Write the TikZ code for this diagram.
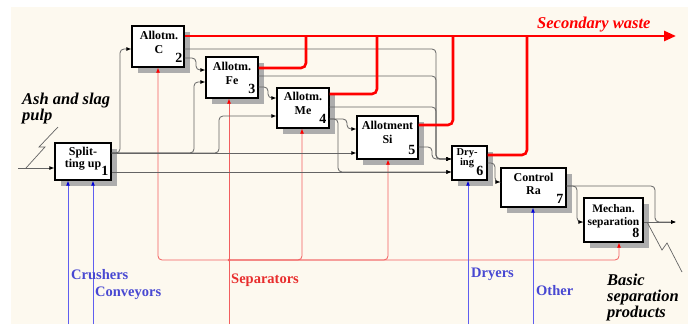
\documentclass[tikz,border=0pt]{standalone}
\usepackage{fontspec}
\setmainfont{Liberation Serif}
\usetikzlibrary{arrows.meta,shadows}
\definecolor{cream}{RGB}{253,249,239}
\definecolor{wred}{RGB}{255,0,0}
\definecolor{mred}{RGB}{242,95,95}
\definecolor{tred}{RGB}{232,45,45}
\definecolor{mblue}{RGB}{95,95,240}
\definecolor{tblue}{RGB}{72,72,210}
\definecolor{lgray}{RGB}{100,100,100}
\newcommand\fsz[2]{\fontsize{#1}{#2}\selectfont}
\begin{document}
\begin{tikzpicture}[x=1pt,y=-1pt,
  box/.style={draw=black,line width=1.3pt,fill=white,inner sep=0pt,
    drop shadow={shadow xshift=6pt,shadow yshift=-6pt,fill=black!32,opacity=1}},
  btxt/.style={anchor=north,inner sep=0pt,align=center,font=\bfseries\fsz{12}{14}},
  num/.style={anchor=base east,inner sep=0pt,font=\bfseries\fsz{14}{14}},
  flow/.style={draw=lgray,line width=0.8pt,rounded corners=4pt,
    -{Latex[length=5pt,width=4pt,color=black]}},
  waste/.style={draw=wred,line width=2.6pt,rounded corners=5pt},
  mech/.style={draw=mred,line width=0.8pt,rounded corners=4pt,
    -{Latex[length=5pt,width=4pt,color=wred]}},
  ctrl/.style={draw=mblue,line width=0.9pt,
    -{Latex[length=5pt,width=4pt,color=blue!85!black]}},
  zig/.style={draw=lgray,line width=0.7pt},
  blab/.style={anchor=base west,inner sep=0pt,text=tblue,font=\bfseries\fsz{14.5}{15}},
  ilab/.style={anchor=north west,inner sep=0pt,align=left,font=\bfseries\itshape\fsz{16.5}{16}}
]
\useasboundingbox (0,0) rectangle (695,324);
\fill[white] (0,0) rectangle (695,324);
\fill[cream] (11,7) rectangle (688,324);

% boxes
\node[box,minimum width=56pt,minimum height=37pt] (b1) at (83,161.5) {};
\node[box,minimum width=52pt,minimum height=41pt] (b2) at (158,46.5) {};
\node[box,minimum width=52pt,minimum height=41pt] (b3) at (232,77.5) {};
\node[box,minimum width=52pt,minimum height=40pt] (b4) at (303,108) {};
\node[box,minimum width=61pt,minimum height=43pt] (b5) at (387.5,137.5) {};
\node[box,minimum width=35pt,minimum height=34pt] (b6) at (469.5,163) {};
\node[box,minimum width=65pt,minimum height=39pt] (b7) at (533.5,187.5) {};
\node[box,minimum width=59pt,minimum height=44pt] (b8) at (613.5,220) {};

\node[btxt,font=\bfseries\fsz{12}{10.5}] (t1) at ([yshift=-5pt]b1.north) {Split-\\ting up};
\node[btxt] (t2) at ([xshift=1pt,yshift=-6pt]b2.north) {Allotm.\\C};
\node[btxt] (t3) at ([yshift=-6pt]b3.north) {Allotm.\\Fe};
\node[btxt] (t4) at ([yshift=-5pt]b4.north) {Allotm.\\Me};
\node[btxt] (t5) at ([yshift=-6pt]b5.north) {Allotment\\Si};
\node[btxt,font=\bfseries\fsz{10.5}{10}] (t6) at ([xshift=-2.5pt,yshift=-3.5pt]b6.north) {Dry-\\ing};
\node[btxt,font=\bfseries\fsz{12}{12.5}] (t7) at ([yshift=-6pt]b7.north) {Control\\Ra};
\node[btxt,font=\bfseries\fsz{11.5}{12.5}] (t8) at ([yshift=-7pt]b8.north) {Mechan.\\separation};

\node[num] (n1) at ([xshift=-3pt,yshift=5pt]b1.south east) {1};
\node[num] (n2) at ([xshift=-2pt,yshift=5pt]b2.south east) {2};
\node[num] (n3) at ([xshift=-3pt,yshift=5pt]b3.south east) {3};
\node[num] (n4) at ([xshift=-3pt,yshift=5pt]b4.south east) {4};
\node[num] (n5) at ([xshift=-3pt,yshift=5pt]b5.south east) {5};
\node[num] (n6) at ([xshift=-4pt,yshift=5pt]b6.south east) {6};
\node[num] (n7) at ([xshift=-3pt,yshift=4pt]b7.south east) {7};
\node[num] (n8) at ([xshift=-4pt,yshift=5pt]b8.south east) {8};

% mechanisms (red thin)
\coordinate (sep) at (229,324);
\coordinate (j) at (229,260);
\draw[mech] (sep) -- (b3.south -| sep);
\draw[mech] (j) -- (158,260) -- (b2.south -| 158,0);
\draw[mech] (j) -- (302,260) -- (b4.south -| 302,0);
\draw[mech] (j) -- (388,260) -- (b5.south -| 388,0);
\draw[mech] (j) -- (619,260) -- (b8.south -| 619,0);
\fill[mred] (j) circle (1.3pt);

% mechanisms (blue)
\coordinate (cr) at (68,324);
\coordinate (co) at (93,324);
\coordinate (dr) at (468,324);
\coordinate (ot) at (533,324);
\draw[ctrl] (cr) -- (b1.south -| cr);
\draw[ctrl] (co) -- (b1.south -| co);
\draw[ctrl] (dr) -- (b6.south -| dr);
\draw[ctrl] (ot) -- (b7.south -| ot);

% flows (gray)
\coordinate (in) at (18,168);
\draw[flow] (in) -- (b1.west |- in);
\draw[flow] (b1.east |- 0,153) -- (b5.west |- 0,153);
\draw[flow] (b1.east |- 0,153) -- (120,153) -- (120,49) -- (b2.west |- 0,49);
\draw[flow] (b1.east |- 0,153) -- (194,153) -- (194,82) -- (b3.west |- 0,82);
\draw[flow] (b1.east |- 0,153) -- (219,153) -- (219,116) -- (b4.west |- 0,116);
\draw[flow] (b1.east |- 0,172) -- (b6.west |- 0,172);
\draw[flow] (b2.east |- 0,58) -- (196,58) -- (196,70) -- (b3.west |- 0,70);
\draw[flow] (b3.east |- 0,87) -- (268,87) -- (268,98) -- (b4.west |- 0,98);
\draw[flow] (b4.east |- 0,119) -- (347,119) -- (347,129) -- (b5.west |- 0,129);
\draw[flow] (b4.east |- 0,119) -- (338,119) -- (338,172) -- (b6.west |- 0,172);
\draw[flow] (b5.east |- 0,147) -- (432,147) -- (432,159) -- (b6.west |- 0,159);
\draw[flow] (b2.east |- 0,49) -- (436,49) -- (436,159) -- (b6.west |- 0,159);
\draw[flow] (b3.east |- 0,76) -- (436,76) -- (436,159) -- (b6.west |- 0,159);
\draw[flow] (b4.east |- 0,107) -- (436,107) -- (436,159) -- (b6.west |- 0,159);
\draw[flow] (b6.east |- 0,163) -- (495,163) -- (495,182) -- (b7.west |- 0,182);
\draw[flow] (b7.east |- 0,186) -- (577,186) -- (577,222) -- (b8.west |- 0,222);
\coordinate (out) at (676,222);
\draw[flow] (b7.east |- 0,186) -- (655,186) -- (655,222) -- (out);
\draw[flow] (b8.east |- 0,222) -- (out);

% secondary waste (red thick)
\coordinate (sw) at (676,36);
\draw[waste,-{Triangle[length=12pt,width=10pt]}] (b2.east |- sw) -- (sw);
\draw[waste] (b3.east |- 0,68) -- (306,68) -- (306,36);
\draw[waste] (b4.east |- 0,94) -- (377,94) -- (377,36);
\draw[waste] (b5.east |- 0,125) -- (453,125) -- (453,36);
\draw[waste] (b6.east |- 0,155) -- (527,155) -- (527,36);

% zigzags
\draw[zig] (26,168) -- (45,147) -- (39,147) -- (58,127);
\draw[zig] (647,222) -- (662,250) -- (667,243) -- (682,272);

% labels
\node[blab] (lcr) at (71,279) {Crushers};
\node[blab] (lco) at (95,296) {Conveyors};
\node[blab,text=tred] (lse) at (231,283) {Separators};
\node[blab] (ldr) at (471,277) {Dryers};
\node[blab] (lot) at (536,295) {Other};
\node[anchor=base west,inner sep=0pt,text=wred,font=\bfseries\itshape\fsz{16.5}{17}] (lsw) at (537,28) {Secondary waste};
\node[ilab,font=\bfseries\itshape\fsz{16.5}{14}] (lash) at (22,92.5) {Ash and slag\\pulp};
\node[ilab] (lbsp) at (607,274) {Basic\\separation\\products};
\end{tikzpicture}
\end{document}
